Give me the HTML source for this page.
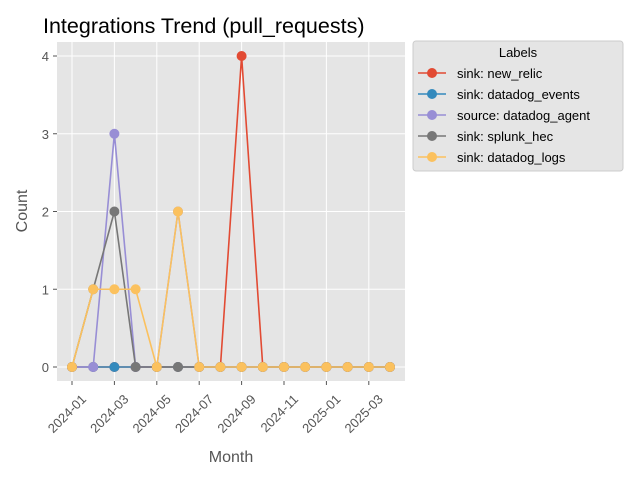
<!DOCTYPE html>
<html><head><meta charset="utf-8"><style>
body{margin:0;background:#fff;font-family:"Liberation Sans","DejaVu Sans",sans-serif}
</style></head><body>
<svg id="chart" width="640" height="480" xmlns="http://www.w3.org/2000/svg">
<rect x="0" y="0" width="640" height="480" fill="#fff"/>
<text x="43" y="33" font-size="21.5" fill="#000">Integrations Trend (pull_requests)</text>
<rect x="57" y="42" width="348" height="339" fill="#e5e5e5"/>
<g id="grid"></g><g id="axes"></g><g id="series"></g>
<text x="231" y="462" font-size="16" fill="#555" text-anchor="middle">Month</text>
<text transform="translate(27,211) rotate(-90)" font-size="16" fill="#555" text-anchor="middle">Count</text>
<g id="legend">
<rect x="413" y="41" width="210" height="130" rx="3" fill="#e5e5e5" stroke="#ccc"/>
<text x="518" y="57" font-size="13" fill="#000" text-anchor="middle">Labels</text>
</g>
</svg>
<script>
const months=["2024-01","2024-02","2024-03","2024-04","2024-05","2024-06","2024-07","2024-08","2024-09","2024-10","2024-11","2024-12","2025-01","2025-02","2025-03","2025-04"];
const tickLabels=["2024-01","2024-03","2024-05","2024-07","2024-09","2024-11","2025-01","2025-03"];
const yTicks=[0,1,2,3,4];
const seriesNames=["sink: new_relic","sink: datadog_events","source: datadog_agent","sink: splunk_hec","sink: datadog_logs"];
const newRelic=[0,0,0,0,0,0,0,0,4,0,0,0,0,0,0,0];
const datadogEvents=[0,0,0,0,0,0,0,0,0,0,0,0,0,0,0,0];
const datadogAgent=[0,0,3,0,0,2,0,0,0,0,0,0,0,0,0,0];
const splunkHec=[0,1,2,0,0,0,0,0,0,0,0,0,0,0,0,0];
const datadogLogs=[0,1,1,1,0,2,0,0,0,0,0,0,0,0,0,0];
const colors=["#E24A33","#348ABD","#988ED5","#777777","#FBC15E"];
const allSeries=[newRelic,datadogEvents,datadogAgent,splunkHec,datadogLogs];
const NS="http://www.w3.org/2000/svg";
const xS=i=>72+i*(390-72)/(months.length-1);
const yS=v=>367-v*(367-56)/4;
function mk(tag,attrs,parent){const e=document.createElementNS(NS,tag);for(const k in attrs)e.setAttribute(k,attrs[k]);parent.appendChild(e);return e;}
const grid=document.getElementById('grid'),axes=document.getElementById('axes'),ser=document.getElementById('series'),leg=document.getElementById('legend');
yTicks.forEach(t=>{
 const l=mk('line',{x1:57,x2:405,y1:yS(t),y2:yS(t),stroke:'#fff','stroke-width':1},grid);
 
 
 mk('line',{x1:53,x2:57,y1:yS(t),y2:yS(t),stroke:'#555'},axes);
 const tx=mk('text',{x:49,y:yS(t)+5,'font-size':13,fill:'#555','text-anchor':'end'},axes);
 tx.textContent=t;
 
 
});
tickLabels.forEach(lab=>{
 const i=months.indexOf(lab);const x=xS(i);
 const l=mk('line',{x1:x,x2:x,y1:42,y2:381,stroke:'#fff','stroke-width':1},grid);
 
 
 mk('line',{x1:x,x2:x,y1:381,y2:385,stroke:'#555'},axes);
 const tx=mk('text',{transform:`translate(${x+15},${400}) rotate(-45)`,'font-size':13,fill:'#555','text-anchor':'end'},axes);
 tx.textContent=lab;
 
 
});
allSeries.forEach((s,k)=>{
 const g=mk('g',{},ser);
 
 
 mk('polyline',{points:s.map((v,i)=>xS(i)+','+yS(v)).join(' '),fill:'none',stroke:colors[k],'stroke-width':1.6},g);
 s.forEach((v,i)=>{
  const c=mk('circle',{cx:xS(i),cy:yS(v),r:5,fill:colors[k]},g);
  
  
 });
 const y=73+k*21;
 const e=mk('g',{},leg);
 
 
 mk('line',{x1:418,x2:446,y1:y,y2:y,stroke:colors[k],'stroke-width':1.6},e);
 mk('circle',{cx:432,cy:y,r:5,fill:colors[k]},e);
 const t=mk('text',{x:457,y:y+5,'font-size':13,fill:'#000'},e);
 t.textContent=seriesNames[k];
});
</script>
</body></html>
